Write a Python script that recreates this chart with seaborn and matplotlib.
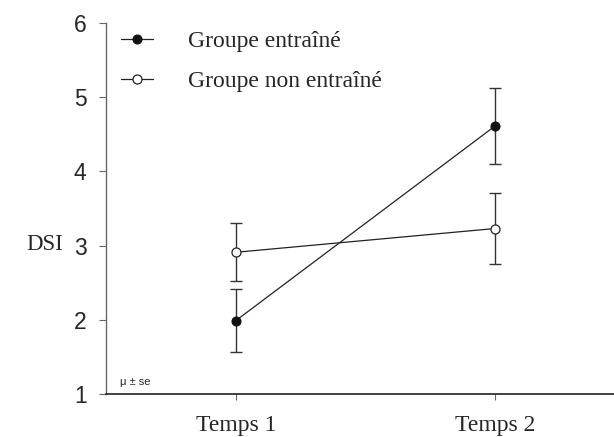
import pandas as pd
import seaborn as sns
import matplotlib.pyplot as plt

# values (mean and standard error)
temps = ["Temps 1", "Temps 2"]
mean_entraine = [1.99, 4.61]
se_entraine = [0.42, 0.51]
mean_non_entraine = [2.91, 3.23]
se_non_entraine = [0.39, 0.48]

df_e = pd.DataFrame({"temps": temps, "dsi": mean_entraine})
df_n = pd.DataFrame({"temps": temps, "dsi": mean_non_entraine})

sns.set_style("ticks")
plt.rcParams["font.family"] = ["Liberation Sans", "DejaVu Sans"]
serif = ["Liberation Serif", "DejaVu Serif"]

fig = plt.figure(figsize=[6.14, 4.37], dpi=100)
ax = fig.add_axes([0.1726, 0.0984, 0.8274, 0.849])

# error bars first so the markers sit on top
ax.errorbar(temps, mean_entraine, yerr=se_entraine, fmt="none",
            ecolor="#333333", elinewidth=1, capsize=4.5, capthick=1, zorder=2)
ax.errorbar(temps, mean_non_entraine, yerr=se_non_entraine, fmt="none",
            ecolor="#333333", elinewidth=1, capsize=4.5, capthick=1, zorder=2)

sns.lineplot(data=df_e, x="temps", y="dsi", ax=ax, color="#222222",
             linewidth=0.9, marker="o", markersize=6.5,
             markerfacecolor="#111111", markeredgecolor="#111111",
             label="Groupe entraîné", zorder=3)
sns.lineplot(data=df_n, x="temps", y="dsi", ax=ax, color="#222222",
             linewidth=0.9, marker="o", markersize=6.5,
             markerfacecolor="white", markeredgecolor="#222222",
             markeredgewidth=0.9, label="Groupe non entraîné", zorder=3)

ax.set_xlim(-0.502, 1.46)
ax.set_ylim(1, 6)
ax.set_yticks([1, 2, 3, 4, 5, 6])
ax.set_xlabel("")
ax.set_ylabel("")

sns.despine(ax=ax)
ax.spines["left"].set_color("#666666")
ax.spines["bottom"].set_color("#222222")
ax.spines["left"].set_linewidth(1)
ax.spines["bottom"].set_linewidth(1.2)
ax.tick_params(axis="y", length=5, width=0.8, color="#666666",
               labelsize=16.5, pad=9)
ax.tick_params(axis="x", length=4, width=0.8, color="#666666", pad=11)
for t in ax.get_xticklabels():
    t.set_fontfamily(serif)
    t.set_fontsize(17)

fig.text(0.043, 0.44, "DSI", family=serif, fontsize=16.5, va="center", ha="left")
ax.text(0.027, 0.018, "μ ± se", transform=ax.transAxes, fontsize=8,
        ha="left", va="bottom")

leg = ax.legend(loc="upper left", bbox_to_anchor=(0.03, 0.98), frameon=False,
                prop={"family": serif, "size": 17}, handlelength=1.36,
                handletextpad=1.48, labelspacing=0.8, borderpad=0,
                borderaxespad=0)

fig.savefig("out.png", dpi=100)
